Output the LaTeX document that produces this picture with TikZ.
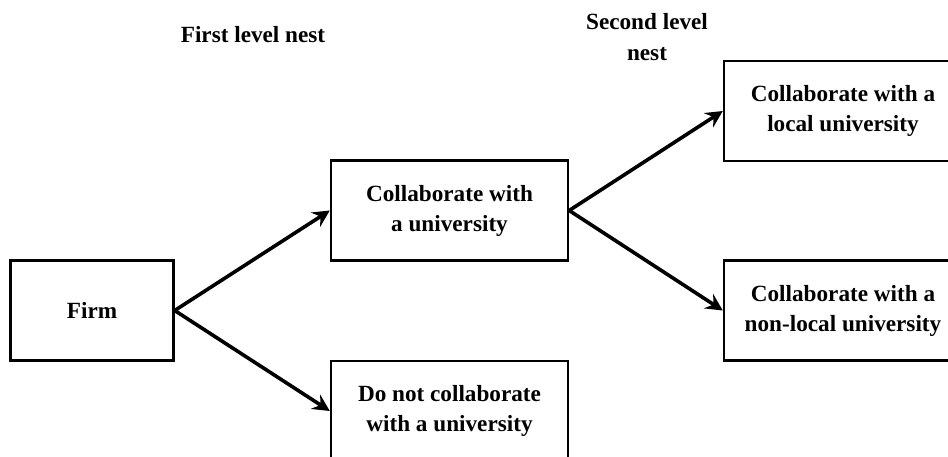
\documentclass[tikz,border=0pt]{standalone}
\usepackage{fontspec}
\setmainfont{Liberation Serif}
\usetikzlibrary{arrows.meta}
\begin{document}
\begin{tikzpicture}[x=1pt,y=-1pt,
  txt/.style={font=\fontsize{23.2}{30}\selectfont\bfseries, align=center, inner sep=0pt},
  box/.style={txt, draw, line width=2.4pt, minimum height=100pt},
  arr/.style={line width=3.6pt, -{Stealth[length=17pt,width=17pt,inset=6pt]}}]
\clip (0,0) rectangle (948,457);
\fill[white] (0,0) rectangle (948,457);
\node[box, minimum width=163pt] (firm) at (92,310.5) {Firm};
\node[box, minimum width=237pt] (uni) at (449.5,210.5) {Collaborate with\\a university};
\node[box, minimum width=237pt] (no) at (449.5,411) {Do not collaborate\\with a university};
\node[box, minimum width=238pt] (loc) at (843,111) {Collaborate with a\\local university};
\node[box, minimum width=238pt] (nonloc) at (843,310.5) {Collaborate with a\\non-local university};
\node[txt] (t1) at (253,35) {First level nest};
\node[txt, font=\fontsize{23.2}{31}\selectfont\bfseries] (t2) at (647,37) {Second level\\nest};
\draw[arr] (firm.east) -- (uni.west);
\draw[arr] (firm.east) -- (no.west);
\draw[arr] (uni.east) -- (loc.west);
\draw[arr] (uni.east) -- (nonloc.west);
\end{tikzpicture}
\end{document}
